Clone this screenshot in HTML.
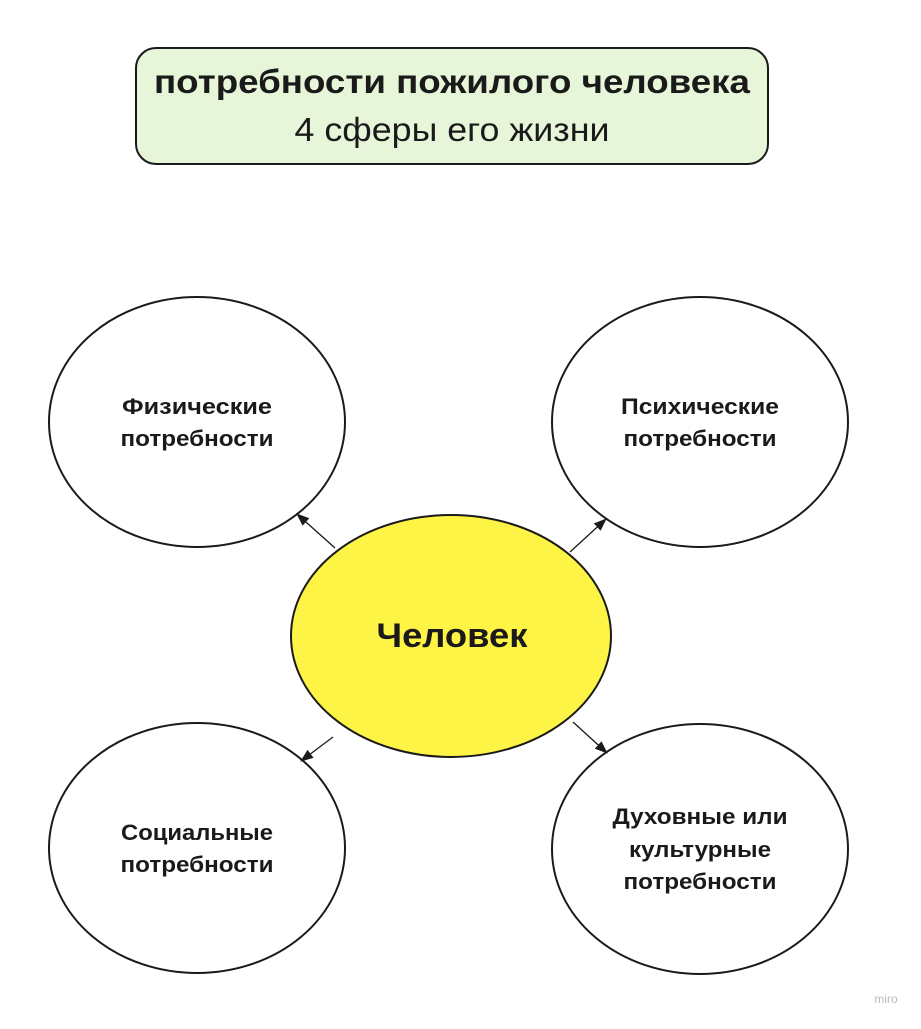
<!DOCTYPE html>
<html><head><meta charset="utf-8"><style>html,body{margin:0;padding:0;background:#fff}</style></head>
<body>
<svg width="921" height="1024" viewBox="0 0 921 1024" xmlns="http://www.w3.org/2000/svg" font-family="'Liberation Sans', 'DejaVu Sans', sans-serif">
<defs><marker id="a" markerWidth="13" markerHeight="10" refX="12" refY="5" orient="auto" markerUnits="userSpaceOnUse"><path d="M0,0 L13,5 L0,10 z" fill="#1a1a1a"/></marker></defs>
<rect x="136" y="48" width="632" height="116" rx="20" fill="#e7f5d9" stroke="#1a1a1a" stroke-width="2"/>
<text x="452" y="93" text-anchor="middle" font-size="33" font-weight="bold" fill="#1a1a1a" textLength="596" lengthAdjust="spacingAndGlyphs">потребности пожилого человека</text>
<text x="452" y="141" text-anchor="middle" font-size="33" fill="#1a1a1a" textLength="315" lengthAdjust="spacingAndGlyphs">4 сферы его жизни</text>
<g fill="#fff" stroke="#1a1a1a" stroke-width="2">
<ellipse cx="197" cy="422" rx="148" ry="125"/>
<ellipse cx="700" cy="422" rx="148" ry="125"/>
<ellipse cx="197" cy="848" rx="148" ry="125"/>
<ellipse cx="700" cy="849" rx="148" ry="125"/>
<ellipse cx="451" cy="636" rx="160" ry="121" fill="#fef445"/>
</g>
<g stroke="#1a1a1a" stroke-width="1.3" marker-end="url(#a)">
<line x1="335" y1="548" x2="297" y2="514"/>
<line x1="570" y1="552" x2="606" y2="519"/>
<line x1="333" y1="737" x2="301" y2="761"/>
<line x1="573" y1="722" x2="607" y2="753"/>
</g>
<g font-size="22" font-weight="bold" fill="#1a1a1a" text-anchor="middle">
<text x="197" y="414" textLength="150" lengthAdjust="spacingAndGlyphs">Физические</text>
<text x="197" y="446" textLength="153" lengthAdjust="spacingAndGlyphs">потребности</text>
<text x="700" y="414" textLength="158" lengthAdjust="spacingAndGlyphs">Психические</text>
<text x="700" y="446" textLength="153" lengthAdjust="spacingAndGlyphs">потребности</text>
<text x="197" y="840" textLength="152" lengthAdjust="spacingAndGlyphs">Социальные</text>
<text x="197" y="872" textLength="153" lengthAdjust="spacingAndGlyphs">потребности</text>
<text x="700" y="824" textLength="175" lengthAdjust="spacingAndGlyphs">Духовные или</text>
<text x="700" y="857" textLength="142" lengthAdjust="spacingAndGlyphs">культурные</text>
<text x="700" y="889" textLength="153" lengthAdjust="spacingAndGlyphs">потребности</text>
<text x="452" y="647" font-size="34" textLength="151" lengthAdjust="spacingAndGlyphs">Человек</text>
</g>
<text x="886" y="1003" font-size="12" fill="#bbb" text-anchor="middle">miro</text>
</svg>
</body></html>
